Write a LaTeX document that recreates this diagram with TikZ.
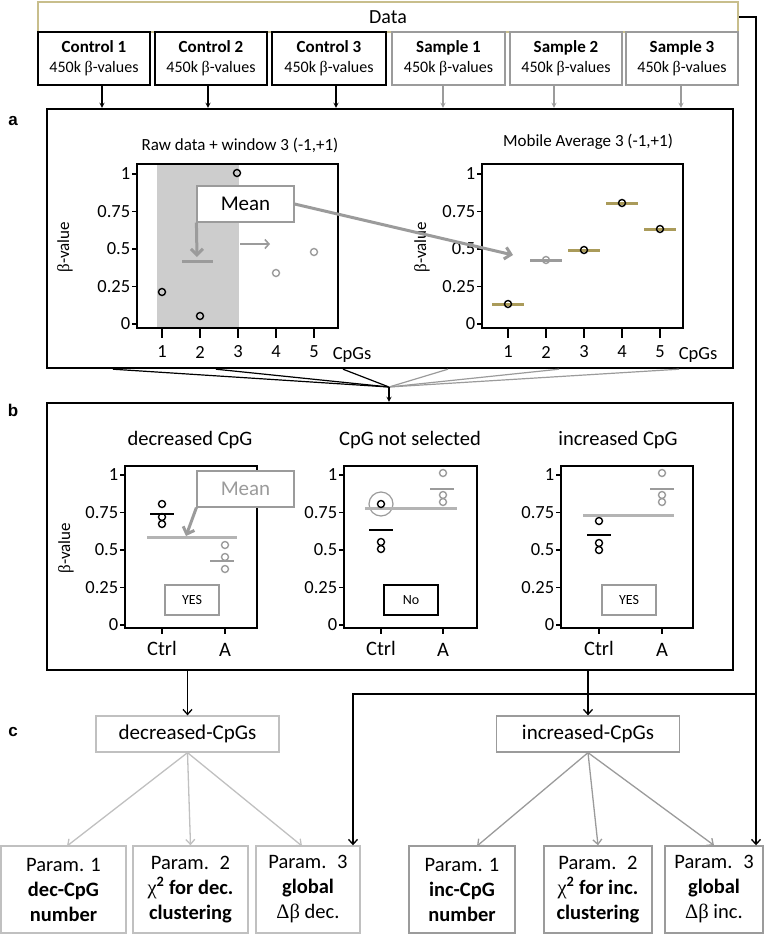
\documentclass[tikz,border=0pt]{standalone}
\usepackage{fontspec}
\setmainfont{Carlito}
\newfontfamily\symfont{Liberation Serif}
\newfontfamily\labfont{Liberation Sans}
\usetikzlibrary{arrows.meta}

\definecolor{khaki}{RGB}{200,190,140}
\definecolor{barolive}{RGB}{170,155,90}
\definecolor{midgray}{RGB}{155,155,155}
\definecolor{ltgray}{RGB}{192,192,192}
\definecolor{shadegray}{RGB}{205,205,205}
\definecolor{meangray}{RGB}{180,180,180}

\begin{document}
\begin{tikzpicture}[x=1pt, y=-1pt, >=stealth,
  box/.style={draw, align=center, inner sep=0pt},
  ctrlbox/.style={box, line width=1.4pt, minimum width=112pt, minimum height=53pt, font=\fontsize{16}{20}\selectfont},
  smplbox/.style={ctrlbox, draw=midgray, line width=1.1pt},
  panel/.style={draw, line width=2.4pt, minimum width=686pt, inner sep=0pt},
  panellab/.style={font=\fontsize{17}{20}\labfont\bfseries},
  plotbox/.style={line width=1.8pt},
  tickmark/.style={line width=1.6pt},
  ticklab/.style={font=\fontsize{18.5}{21}\selectfont, inner sep=1pt},
  title/.style={font=\fontsize{17}{20}\selectfont},
  btitle/.style={font=\fontsize{20.5}{24}\selectfont},
  dot/.style={line width=1.4pt},
  graydot/.style={dot, draw=midgray},
  avgbar/.style={barolive, line width=3pt},
  meanline/.style={meangray, line width=3pt},
  grayarrow/.style={midgray, line width=3pt, -{Straight Barb[length=6pt, width=12pt]}},
  barb/.style={line width=1.3pt, -{Straight Barb[length=5pt, width=9pt]}},
  meanbox/.style={box, draw=midgray, line width=1.2pt, fill=white, minimum width=97pt, minimum height=36pt, font=\fontsize{21}{24}\selectfont},
  answer/.style={box, draw=midgray, line width=1.2pt, minimum width=54pt, minimum height=30pt, font=\fontsize{14}{16}\selectfont},
  catbox/.style={box, line width=1.3pt, minimum width=183pt, minimum height=36pt, font=\fontsize{21}{24}\selectfont},
  parbox/.style={box, draw=midgray, line width=1.4pt, minimum height=87pt, font=\fontsize{20.5}{25}\selectfont}
]
\useasboundingbox (0,0) rectangle (770,935);

% Data and the six inputs
\node[box, draw=khaki, line width=2.6pt, minimum width=700pt, minimum height=30pt, font=\fontsize{20}{22}\selectfont] (Data) at (388,17) {Data};
\node[ctrlbox] (C1) at (94,58.5) {\textbf{\fontsize{17}{20}\selectfont Control 1}\\450k {\symfont β}-values};
\node[ctrlbox] (C2) at (211,58.5) {\textbf{\fontsize{17}{20}\selectfont Control 2}\\450k {\symfont β}-values};
\node[ctrlbox, minimum width=114pt] (C3) at (329,58.5) {\textbf{\fontsize{17}{20}\selectfont Control 3}\\450k {\symfont β}-values};
\node[smplbox, minimum width=113pt] (S1) at (448.5,58.5) {\textbf{\fontsize{17}{20}\selectfont Sample 1}\\450k {\symfont β}-values};
\node[smplbox] (S2) at (566,58.5) {\textbf{\fontsize{17}{20}\selectfont Sample 2}\\450k {\symfont β}-values};
\node[smplbox] (S3) at (682,58.5) {\textbf{\fontsize{17}{20}\selectfont Sample 3}\\450k {\symfont β}-values};

% Panels
\node[panel, minimum height=259pt] (PA) at (390,238.5) {};
\node[panel, minimum height=267pt] (PB) at (390,536.5) {};
\node[panellab] at (13,121) {a};
\node[panellab] at (13,410) {b};
\node[panellab] at (13,732) {c};

% Inputs into panel a
\draw[->, line width=1.2pt] (C1.south -| 102,0) -- (PA.north -| 102,0);
\draw[->, line width=1.2pt] (C2.south -| 208,0) -- (PA.north -| 208,0);
\draw[->, line width=1.2pt] (C3.south -| 336,0) -- (PA.north -| 336,0);
\draw[->, midgray, line width=1.2pt] (S1.south -| 443,0) -- (PA.north -| 443,0);
\draw[->, midgray, line width=1.2pt] (S2.south -| 554,0) -- (PA.north -| 554,0);
\draw[->, midgray, line width=1.2pt] (S3.south -| 681,0) -- (PA.north -| 681,0);

% Panel a, raw data + window
\node[title] at (240,145) {Raw data + window 3 (-1,+1)};
\fill[shadegray] (157,164) rectangle (239,328);
\draw[plotbox] (137,164) rectangle (338,328);
\foreach \v in {0,0.25,0.5,0.75,1}
  \draw[tickmark] (137,{324-150*\v}) -- (132,{324-150*\v}) node[left, ticklab] {\v};
\foreach \i in {1,...,5} {
  \draw[tickmark] ({124+38*\i},328) -- ({124+38*\i},338);
  \node[ticklab] at ({124+38*\i},352) {\i};
}
\node[ticklab] at (352,355) {CpGs};
\node[title, rotate=90] at (65,247) {{\symfont β}-value};
\draw[dot] (162,292) circle (3.5pt);
\draw[dot] (200,316) circle (3.5pt);
\draw[dot] (237,173) circle (3.5pt);
\draw[graydot] (276,273) circle (3.5pt);
\draw[graydot] (314,252) circle (3.5pt);
\node[meanbox, draw=midgray] (MeanA) at (245.5,204) {Mean};
\draw[grayarrow] (MeanA.south west) -- (197,257);
\draw[meanline, midgray] (182,261) -- (213,261);
\draw[midgray, line width=1.6pt, -{Straight Barb[length=4pt, width=9pt]}] (240,244) -- (270,244);

% Panel a, mobile average
\node[title] at (588,142) {Mobile Average 3 (-1,+1)};
\draw[plotbox] (482,164) rectangle (683,328);
\foreach \v in {0,0.25,0.5,0.75,1}
  \draw[tickmark] (482,{324-150*\v}) -- (477,{324-150*\v}) node[left, ticklab] {\v};
\foreach \i in {1,...,5} {
  \draw[tickmark] ({470+38*\i},328) -- ({470+38*\i},338);
  \node[ticklab] at ({470+38*\i},352) {\i};
}
\node[ticklab] at (698,355) {CpGs};
\node[title, rotate=90] at (422,247) {{\symfont β}-value};
\draw[avgbar] (492,304) -- (524,304);
\draw[avgbar, midgray] (530,260) -- (562,260);
\draw[avgbar] (568,250) -- (600,250);
\draw[avgbar] (606,203) -- (638,203);
\draw[avgbar] (644,229) -- (676,229);
\draw[dot] (508,304) circle (3.5pt);
\draw[graydot] (546,260) circle (3.5pt);
\draw[dot] (584,250) circle (3.5pt);
\draw[dot] (622,203) circle (3.5pt);
\draw[dot] (660,229) circle (3.5pt);
\coordinate (tipA) at (513,255);
\draw[grayarrow] (MeanA.east) -- (tipA);

% Panel a into panel b
\coordinate (M) at (389,387);
\foreach \x in {113,216,343}
  \draw[line width=1.2pt] (PA.south -| \x,0) -- (M);
\foreach \x in {448,559,679}
  \draw[midgray, line width=1.2pt] (PA.south -| \x,0) -- (M);
\draw[->, line width=1.2pt] (M) -- (PB.north -| M);

% Panel b, decreased CpG
\node[btitle] at (190,440) {decreased CpG};
\draw[plotbox] (125,466) rectangle (257,628);
\foreach \v in {0,0.25,0.5,0.75,1}
  \draw[tickmark] (125,{625-150*\v}) -- (120,{625-150*\v}) node[left, ticklab] {\v};
\draw[tickmark] (162,628) -- (162,634);
\draw[tickmark] (225,628) -- (225,634);
\node[btitle] at (162,648) {Ctrl};
\node[btitle] at (225,650) {A};
\node[title, rotate=90] at (66,548) {{\symfont β}-value};
\draw[meanline] (147,537) -- (237,537);
\draw[dot] (162,504) circle (3.5pt);
\draw[dot] (162,517) circle (3.5pt);
\draw[dot] (162,524) circle (3.5pt);
\draw[line width=1.6pt] (150,514) -- (174,514);
\draw[graydot] (225,545) circle (3.5pt);
\draw[graydot] (225,557) circle (3.5pt);
\draw[graydot] (225,569) circle (3.5pt);
\draw[midgray, line width=1.6pt] (210,561) -- (234,561);
\node[meanbox, text=midgray] (MeanB) at (245.5,489) {Mean};
\draw[grayarrow] (MeanB.south west) -- (186,536);
\node[answer] (yes1) at (192,600) {YES};

% Panel b, CpG not selected
\node[btitle] at (410,440) {CpG not selected};
\draw[plotbox] (344,466) rectangle (477,628);
\foreach \v in {0,0.25,0.5,0.75,1}
  \draw[tickmark] (344,{625-150*\v}) -- (339,{625-150*\v}) node[left, ticklab] {\v};
\draw[tickmark] (381,628) -- (381,634);
\draw[tickmark] (443,628) -- (443,634);
\node[btitle] at (381,648) {Ctrl};
\node[btitle] at (443,650) {A};
\draw[midgray, line width=1.2pt] (381,504) circle (12pt);
\draw[meanline] (365,508) -- (457,508);
\draw[dot] (381,504) circle (3.5pt);
\draw[dot] (381,542) circle (3.5pt);
\draw[dot] (381,549) circle (3.5pt);
\draw[line width=1.6pt] (369,530) -- (393,530);
\draw[graydot] (443,473) circle (3.5pt);
\draw[graydot] (443,495) circle (3.5pt);
\draw[graydot] (443,502) circle (3.5pt);
\draw[midgray, line width=1.6pt] (430,489) -- (454,489);
\node[answer, draw=black] (no) at (411,600) {No};

% Panel b, increased CpG
\node[btitle] at (618,440) {increased CpG};
\draw[plotbox] (561,466) rectangle (693,628);
\foreach \v in {0,0.25,0.5,0.75,1}
  \draw[tickmark] (561,{625-150*\v}) -- (556,{625-150*\v}) node[left, ticklab] {\v};
\draw[tickmark] (599,628) -- (599,634);
\draw[tickmark] (662,628) -- (662,634);
\node[btitle] at (599,648) {Ctrl};
\node[btitle] at (662,650) {A};
\draw[meanline] (583,515) -- (674,515);
\draw[dot] (599,521) circle (3.5pt);
\draw[dot] (599,543) circle (3.5pt);
\draw[dot] (599,550) circle (3.5pt);
\draw[line width=1.6pt] (587,535) -- (611,535);
\draw[graydot] (662,473) circle (3.5pt);
\draw[graydot] (662,495) circle (3.5pt);
\draw[graydot] (662,502) circle (3.5pt);
\draw[midgray, line width=1.6pt] (650,489) -- (674,489);
\node[answer] (yes2) at (629,600) {YES};

% Panel c, selected CpGs
\node[catbox, draw=ltgray] (Dec) at (187.5,734) {decreased-CpGs};
\node[catbox, draw=midgray] (Inc) at (588,734) {increased-CpGs};
\draw[barb] (PB.south -| Dec.north) -- (Dec.north);
\draw[barb] (PB.south -| Inc.north) -- (Inc.north);

% Parameters
\node[parbox, draw=ltgray, minimum width=125pt] (P1d) at (63.5,889.5) {Param. 1\\\textbf{dec-CpG}\\\textbf{number}};
\node[parbox, draw=ltgray, minimum width=115pt] (P2d) at (190.5,889.5) {Param.~ 2\\{\symfont χ}\textbf{\textsuperscript{2} for dec.}\\\textbf{clustering}};
\node[parbox, draw=ltgray, minimum width=104pt] (P3d) at (308,889.5) {Param.~ 3\\\textbf{global}\\{\symfont Δβ} dec.};
\node[parbox, minimum width=106pt] (P1i) at (462,889.5) {Param. 1\\\textbf{inc-CpG}\\\textbf{number}};
\node[parbox, minimum width=108pt] (P2i) at (598,889.5) {Param.~ 2\\{\symfont χ}\textbf{\textsuperscript{2} for inc.}\\\textbf{clustering}};
\node[parbox, minimum width=98pt] (P3i) at (714,889.5) {Param.~ 3\\\textbf{global}\\{\symfont Δβ} inc.};

\draw[barb, ltgray] (Dec.south) -- (67,846);
\draw[barb, ltgray] (Dec.south) -- (P2d.north);
\draw[barb, ltgray] (Dec.south) -- (302,846);
\draw[barb, midgray] (Inc.south) -- (477,846);
\draw[barb, midgray] (Inc.south) -- (P2i.north);
\draw[barb, midgray] (Inc.south) -- (P3i.north);

% Data straight to the global parameters
\coordinate (J) at (756,694);
\coordinate (K) at (353,694);
\draw[line width=1.3pt] (Data.east) -| (J);
\draw[barb] (J) -- (P3i.north -| J);
\draw[barb] (J) -- (K) -- (P3d.north -| K);

\end{tikzpicture}
\end{document}
